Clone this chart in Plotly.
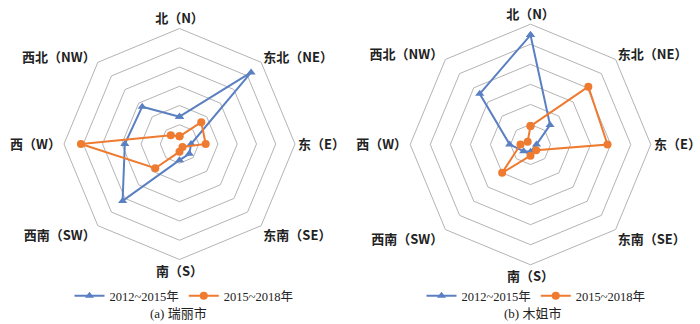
import plotly.graph_objects as go

directions = ["北（N）", "东北（NE）", "东（E）", "东南（SE）", "南（S）", "西南（SW）", "西（W）", "西北（NW）"]
series_names = ["2012~2015年", "2015~2018年"]

ruili_2012_2015 = [7.1, 26.3, 3.0, 3.6, 4.2, 20.9, 14.2, 13.7]
ruili_2015_2018 = [2.0, 8.0, 6.8, 1.1, 2.0, 8.9, 25.6, 3.2]
mujie_2012_2015 = [27.3, 6.9, 1.5, 1.5, 1.8, 2.4, 5.2, 17.9]
mujie_2015_2018 = [4.6, 20.4, 19.2, 2.0, 2.8, 10.0, 2.5, 1.0]

captions = ["(a) 瑞丽市", "(b) 木姐市"]

BLUE = "#5B80C2"
ORANGE = "#EE7B30"
GRID = "#B4B4B4"
SERIF = "Liberation Serif, Noto Sans CJK SC"


def closed(v):
    return list(v) + [v[0]]


fig = go.Figure()

panels = [
    ("polar", "legend", ruili_2012_2015, ruili_2015_2018),
    ("polar2", "legend2", mujie_2012_2015, mujie_2015_2018),
]
for sub, leg, a, b in panels:
    fig.add_trace(go.Scatterpolar(
        r=closed(a), theta=closed(directions), subplot=sub, legend=leg,
        name=series_names[0], mode="lines+markers",
        line=dict(color=BLUE, width=2),
        marker=dict(symbol="triangle-up", size=8, color=BLUE),
    ))
    fig.add_trace(go.Scatterpolar(
        r=closed(b), theta=closed(directions), subplot=sub, legend=leg,
        name=series_names[1], mode="lines+markers",
        line=dict(color=ORANGE, width=2),
        marker=dict(symbol="circle", size=8, color=ORANGE),
    ))


def polar_cfg(xd, yd):
    return dict(
        domain=dict(x=xd, y=yd),
        gridshape="linear",
        bgcolor="white",
        radialaxis=dict(range=[0, 30], dtick=5, showticklabels=False, ticks="",
                        showline=False, gridcolor=GRID, gridwidth=1),
        angularaxis=dict(rotation=90, direction="clockwise", categoryorder="array",
                         categoryarray=directions, showgrid=False, showline=True,
                         linecolor=GRID, linewidth=1, ticks="",
                         tickfont=dict(family="Noto Sans CJK SC", size=13,
                                       color="#222222", weight="bold")),
    )


legend_font = dict(family=SERIF, size=12.5, color="#222222")

fig.update_layout(
    width=700, height=324,
    margin=dict(l=0, r=0, t=0, b=0),
    paper_bgcolor="white",
    polar=polar_cfg([64 / 700, 295 / 700], [1 - 259.5 / 324, 1 - 28.5 / 324]),
    polar2=polar_cfg([410.2 / 700, 650.8 / 700], [1 - 264.8 / 324, 1 - 24.2 / 324]),
    legend=dict(orientation="h", x=184 / 700, xanchor="center", y=1 - 296 / 324,
                yanchor="middle", font=legend_font,
                itemwidth=30, tracegroupgap=0, bgcolor="rgba(0,0,0,0)"),
    legend2=dict(orientation="h", x=536 / 700, xanchor="center", y=1 - 296 / 324,
                 yanchor="middle", font=legend_font,
                 itemwidth=30, tracegroupgap=0, bgcolor="rgba(0,0,0,0)"),
    annotations=[
        dict(text=captions[0], x=178 / 700, y=1 - 313 / 324, xref="paper", yref="paper",
             xanchor="center", yanchor="middle",
             showarrow=False, font=dict(family=SERIF, size=13, color="#222222")),
        dict(text=captions[1], x=532 / 700, y=1 - 313 / 324, xref="paper", yref="paper",
             xanchor="center", yanchor="middle",
             showarrow=False, font=dict(family=SERIF, size=13, color="#222222")),
    ],
)

fig.write_html("out.html")
